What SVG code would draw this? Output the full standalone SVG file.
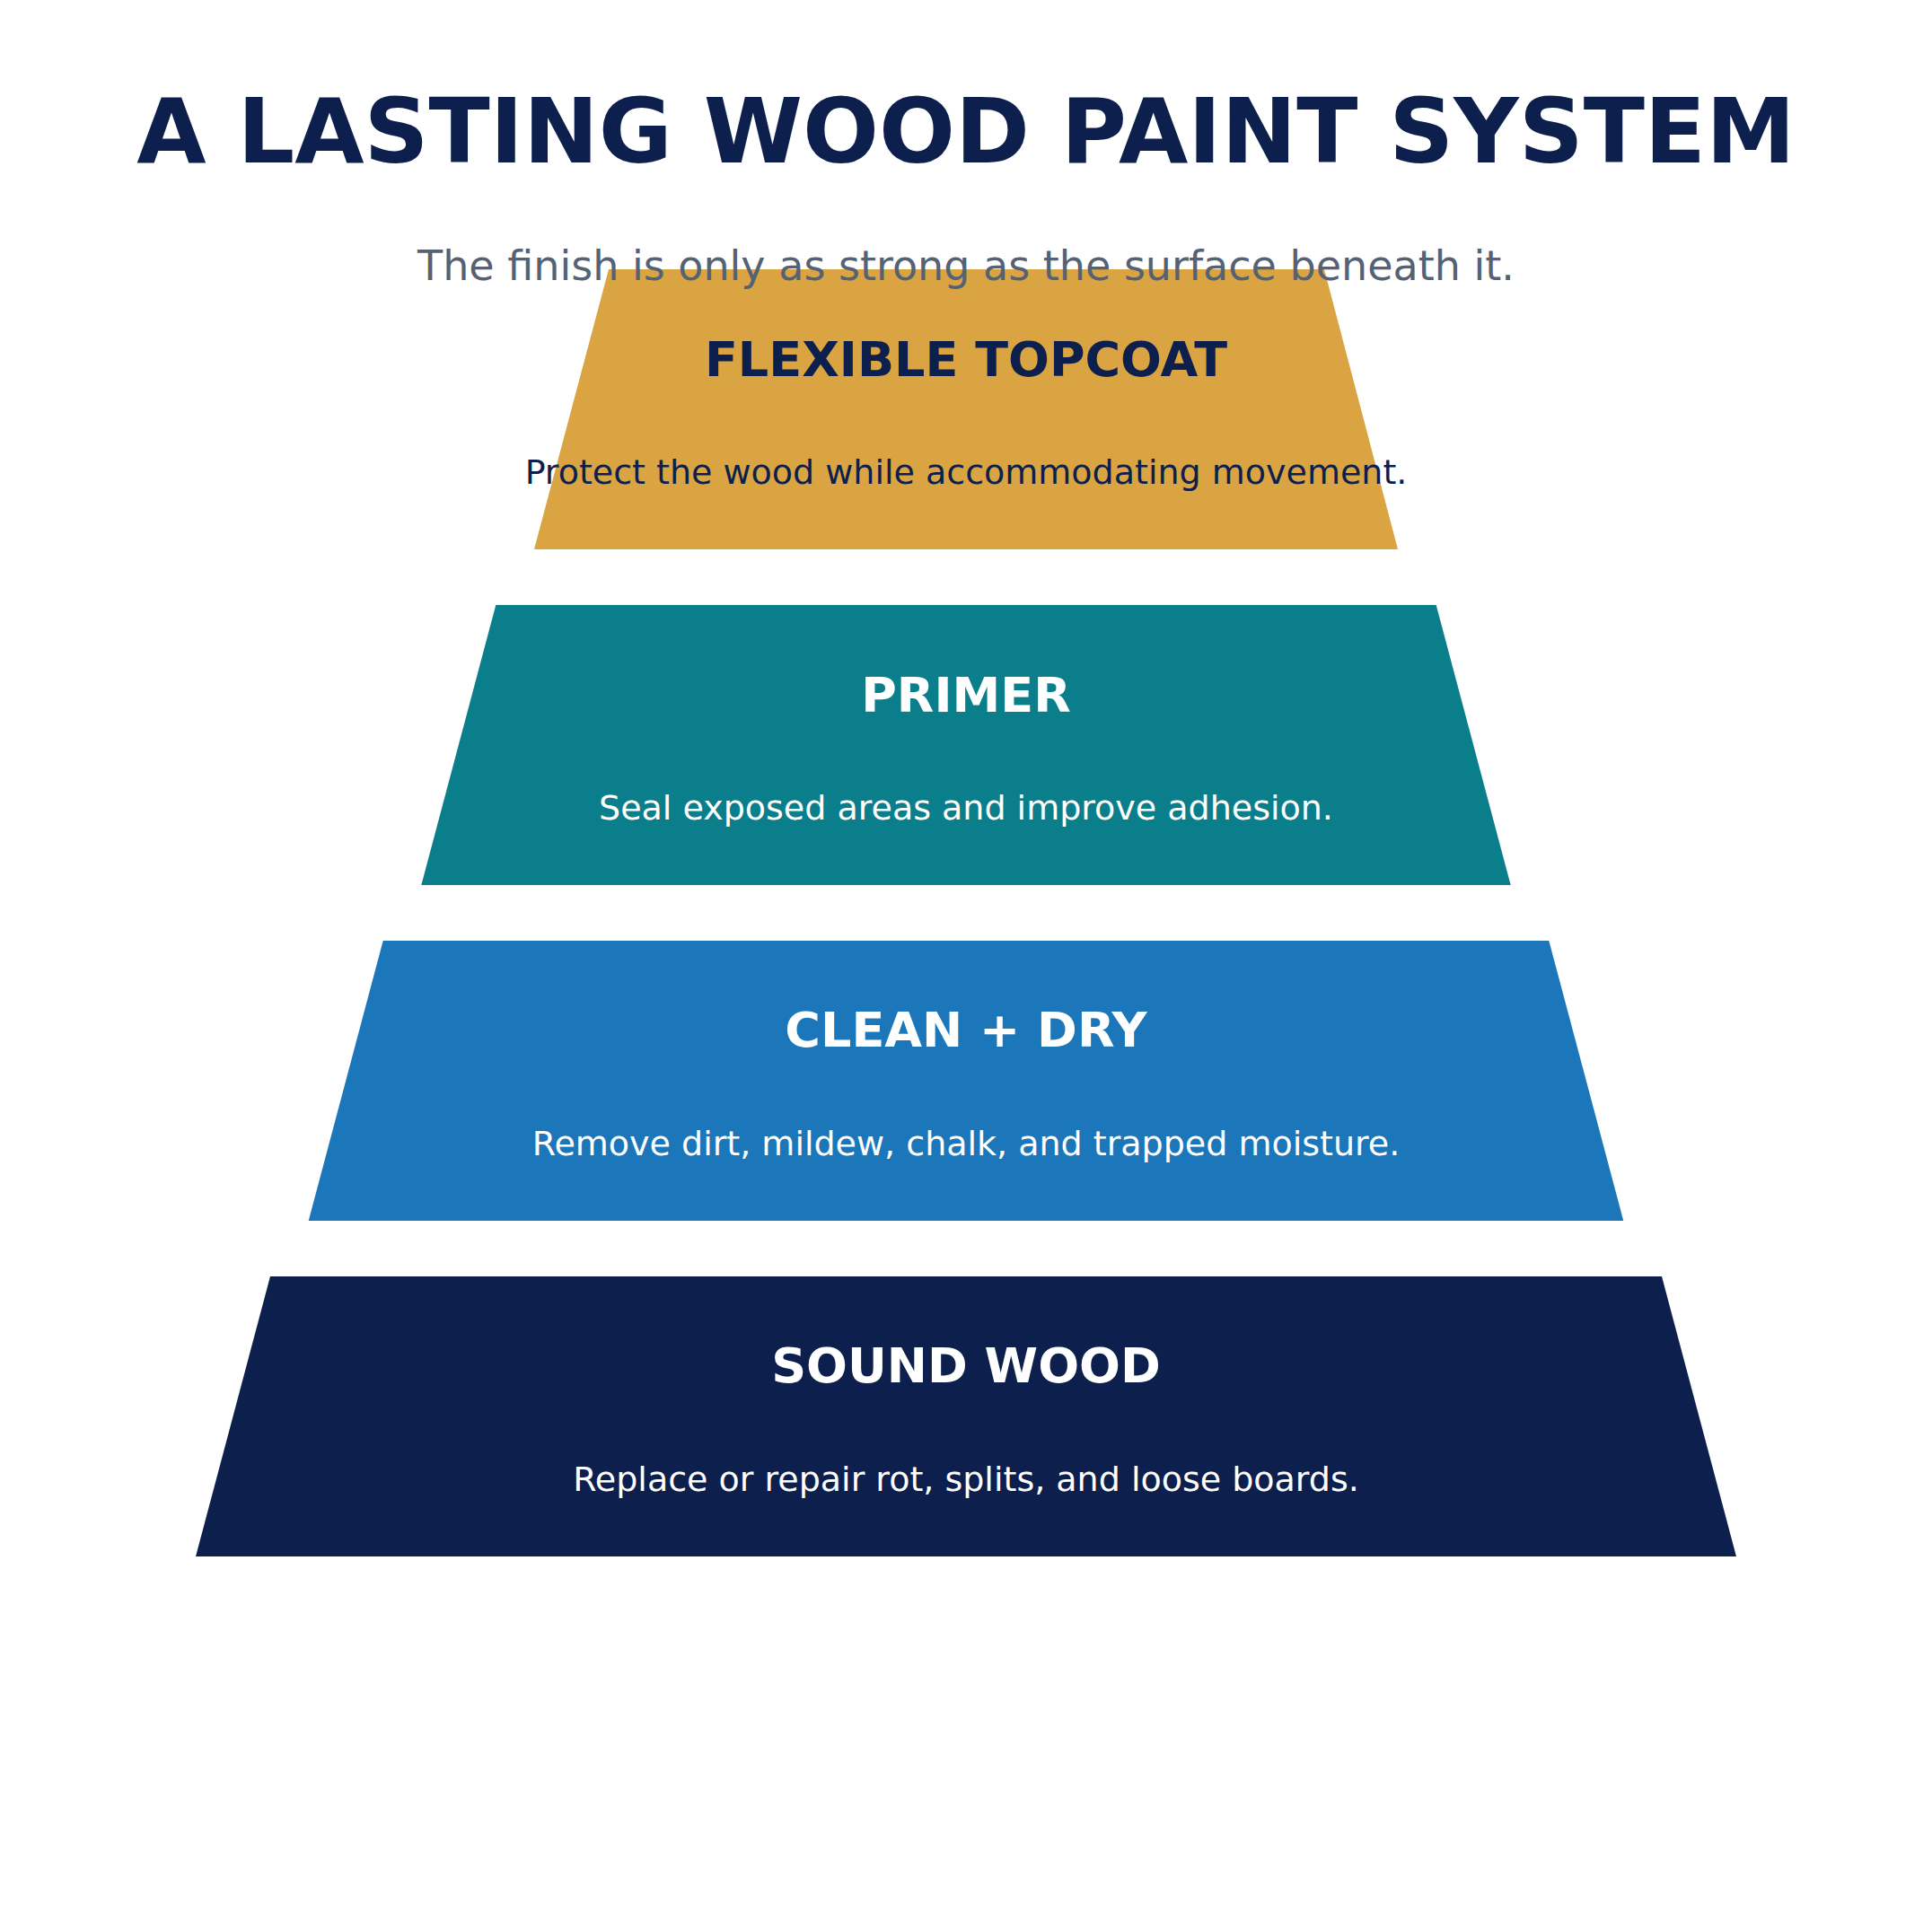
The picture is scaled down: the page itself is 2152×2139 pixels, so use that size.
<svg xmlns="http://www.w3.org/2000/svg" width="2152" height="2139" viewBox="0 0 2152 2139">
  <style>
    .title { font-family: "DejaVu Sans", "Liberation Sans", sans-serif; font-weight: bold; font-size: 100px; fill: #0D1F4C; text-anchor: middle; }
    .subtitle { font-family: "DejaVu Sans", "Liberation Sans", sans-serif; font-size: 46px; fill: #556275; text-anchor: middle; }
    .label { font-family: "DejaVu Sans", "Liberation Sans", sans-serif; font-weight: bold; font-size: 54px; text-anchor: middle; }
    .desc { font-family: "DejaVu Sans", "Liberation Sans", sans-serif; font-size: 38px; text-anchor: middle; }
    .dark { fill: #0D1F4C; }
    .light { fill: #FFFFFF; }
  </style>
  <rect x="0" y="0" width="2152" height="2139" fill="#FFFFFF"/>

  <g id="layer-sound-wood">
    <polygon points="301,1422 1851,1422 1934,1734 218,1734" fill="#0D1F4C"/>
    <text class="label light" x="1076" y="1540">SOUND WOOD</text>
    <text class="desc light" x="1076" y="1661">Replace or repair rot, splits, and loose boards.</text>
  </g>

  <g id="layer-clean-dry">
    <polygon points="426.7,1048 1725.3,1048 1808.3,1360 343.7,1360" fill="#1B77BA"/>
    <text class="label light" x="1076" y="1166">CLEAN + DRY</text>
    <text class="desc light" x="1076" y="1287">Remove dirt, mildew, chalk, and trapped moisture.</text>
  </g>

  <g id="layer-primer">
    <polygon points="552.3,674 1599.7,674 1682.7,986 469.3,986" fill="#0A7F8B"/>
    <text class="label light" x="1076" y="792.5">PRIMER</text>
    <text class="desc light" x="1076" y="913">Seal exposed areas and improve adhesion.</text>
  </g>

  <g id="layer-topcoat">
    <polygon points="678,300 1475,300 1557,612 595,612" fill="#D9A441"/>
    <text class="label dark" x="1076" y="418.5">FLEXIBLE TOPCOAT</text>
    <text class="desc dark" x="1076" y="539">Protect the wood while accommodating movement.</text>
  </g>

  <g id="connectors"></g>

  <g id="header">
    <text class="title" x="1076" y="181">A LASTING WOOD PAINT SYSTEM</text>
    <text class="subtitle" x="1076" y="312">The finish is only as strong as the surface beneath it.</text>
  </g>
</svg>
